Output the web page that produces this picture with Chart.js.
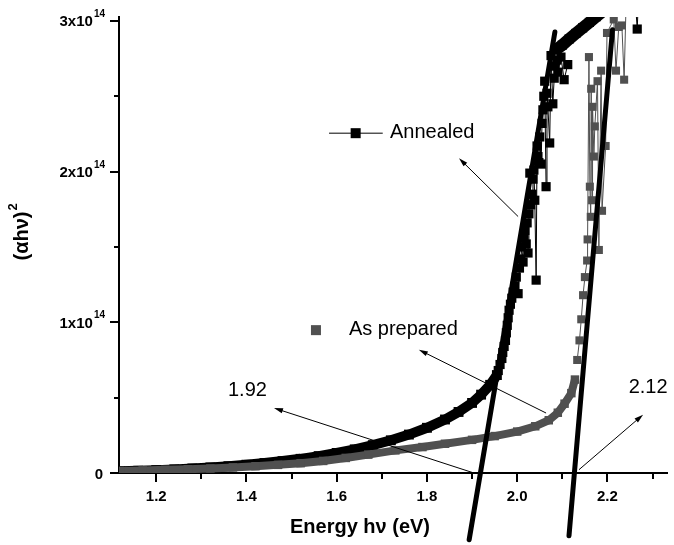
<!DOCTYPE html>
<html>
<head>
<meta charset="utf-8">
<script src="https://cdn.jsdelivr.net/npm/chart.js@4.4.0/dist/chart.umd.min.js"></script>
<style>
  html, body { margin: 0; padding: 0; background: #fff; }
  canvas { display: block; }
</style>
</head>
<body>
<canvas id="taucChart" width="674" height="545"></canvas>
<script>
// x = photon energy h\u03bd (eV), y = (\u03b1h\u03bd)^2 in units of 1e14

// annealed sample: dense low-energy band, scattered edge, dense top band
const annealedBandX = [1.12, 1.16, 1.20, 1.24, 1.28, 1.32, 1.36, 1.40, 1.44, 1.48, 1.52, 1.56, 1.60, 1.64, 1.68, 1.72, 1.76, 1.80, 1.84, 1.87, 1.90, 1.92, 1.94, 1.955];
const annealedBandY = [0.012, 0.015, 0.019, 0.024, 0.030, 0.037, 0.045, 0.055, 0.066, 0.079, 0.094, 0.112, 0.133, 0.157, 0.185, 0.217, 0.255, 0.300, 0.355, 0.405, 0.465, 0.520, 0.585, 0.650];
const annealedEdgeX = [1.958, 1.962, 1.966, 1.968, 1.971, 1.974, 1.976, 1.978, 1.980, 1.982, 1.985, 1.988, 1.991, 1.995, 1.998, 2.002, 2.005, 2.008, 2.010, 2.013, 2.015, 2.017, 2.020, 2.022, 2.024, 2.026, 2.028, 2.030, 2.033, 2.035, 2.037, 2.039, 2.042, 2.044, 2.046, 2.048, 2.050, 2.053, 2.055, 2.057, 2.059, 2.061, 2.064, 2.066, 2.068, 2.072, 2.075, 2.079, 2.082, 2.084, 2.088, 2.090, 2.097, 2.104, 2.112];
const annealedEdgeY = [0.68, 0.72, 0.76, 0.80, 0.84, 0.88, 0.93, 0.98, 1.03, 1.08, 1.12, 1.16, 1.20, 1.24, 1.30, 1.19, 1.36, 1.42, 1.50, 1.40, 1.56, 1.61, 1.52, 1.66, 1.46, 1.72, 1.99, 1.78, 1.85, 1.95, 2.01, 1.81, 1.28, 2.17, 2.10, 2.06, 2.23, 2.05, 2.32, 2.41, 2.50, 2.60, 1.90, 2.52, 2.43, 2.19, 2.77, 2.45, 2.62, 2.70, 2.74, 2.66, 2.76, 2.61, 2.71];
const annealedTopX = [2.085, 2.100, 2.115, 2.130, 2.145, 2.160, 2.175, 2.190];
const annealedTopY = [2.807, 2.840, 2.880, 2.917, 2.954, 2.990, 3.028, 3.065];
const annealedStrayX = [2.258, 2.266, 2.272];
const annealedStrayY = [3.30, 2.946, 3.40];

// as prepared sample
const preparedBandX = [1.12, 1.17, 1.22, 1.27, 1.32, 1.37, 1.42, 1.47, 1.52, 1.57, 1.62, 1.67, 1.73, 1.79, 1.84, 1.90, 1.95, 2.00, 2.04, 2.07, 2.09, 2.105, 2.12, 2.128];
const preparedBandY = [0.014, 0.017, 0.021, 0.025, 0.030, 0.037, 0.045, 0.054, 0.065, 0.080, 0.100, 0.122, 0.150, 0.172, 0.194, 0.220, 0.245, 0.275, 0.310, 0.350, 0.400, 0.460, 0.530, 0.620];
const preparedEdgeX = [2.133, 2.138, 2.142, 2.146, 2.150, 2.155, 2.156, 2.159, 2.161, 2.163, 2.164, 2.166, 2.167, 2.170, 2.172, 2.178, 2.181, 2.186, 2.188, 2.196, 2.199, 2.214, 2.219, 2.225, 2.232, 2.237, 2.242];
const preparedEdgeY = [0.75, 0.88, 1.02, 1.18, 1.30, 1.41, 1.55, 2.76, 1.90, 1.70, 2.55, 1.81, 2.43, 2.10, 2.30, 2.60, 1.48, 2.67, 1.74, 2.17, 2.92, 3.01, 2.67, 2.96, 2.97, 2.61, 3.20];

// linear fits (band gap extrapolation)
const fitAnnealedX = [1.8935, 2.0835];
const fitAnnealedY = [-0.443, 2.926];
const fitPreparedX = [2.1148, 2.2112];
const fitPreparedY = [-0.416, 2.942];

// axes
const xMajorTicks = [1.2, 1.4, 1.6, 1.8, 2.0, 2.2];
const xTickLabels = ['1.2', '1.4', '1.6', '1.8', '2.0', '2.2'];
const xMinorTicks = [1.3, 1.5, 1.7, 1.9, 2.1, 2.3];
const yMajorTicks = [0, 1, 2, 3];
const yTickLabels = ['0', '1x10', '2x10', '3x10'];
const yTickExponents = ['', '14', '14', '14'];
const yMinorTicks = [0.5, 1.5, 2.5];

const BLACK = '#000000';
const GREY = '#505050';
const FONT = "'Liberation Sans', Arial, sans-serif";

const pts = (xs, ys) => xs.map((x, i) => ({ x: x, y: ys[i] }));

function series(xs, ys, color, lineWidth, radius, order) {
    return {
        data: pts(xs, ys),
        showLine: true,
        borderColor: color,
        borderWidth: lineWidth,
        pointStyle: 'rect',
        pointRadius: radius,
        pointBorderWidth: 0,
        pointBackgroundColor: color,
        order: order
    };
}

function fitLine(xs, ys) {
    return {
        data: pts(xs, ys),
        showLine: true,
        borderColor: BLACK,
        borderWidth: 5,
        borderCapStyle: 'round',
        pointRadius: 0,
        clip: false,
        order: 0
    };
}

function arrow(ctx, x0, y0, x1, y1) {
    const a = Math.atan2(y1 - y0, x1 - x0);
    const len = 9, half = 2.6;
    ctx.beginPath();
    ctx.moveTo(x0, y0);
    ctx.lineTo(x1 - Math.cos(a) * len * 0.8, y1 - Math.sin(a) * len * 0.8);
    ctx.stroke();
    ctx.beginPath();
    ctx.moveTo(x1, y1);
    ctx.lineTo(x1 - Math.cos(a) * len - Math.sin(a) * half, y1 - Math.sin(a) * len + Math.cos(a) * half);
    ctx.lineTo(x1 - Math.cos(a) * len + Math.sin(a) * half, y1 - Math.sin(a) * len - Math.cos(a) * half);
    ctx.closePath();
    ctx.fill();
}

// axis decorations, labels and annotations
const overlay = {
    id: 'taucOverlay',
    afterDraw: (chart) => {
        const { ctx, chartArea } = chart;
        const xs = chart.scales.x, ys = chart.scales.y;
        const px = v => xs.getPixelForValue(v);
        const py = v => ys.getPixelForValue(v);
        ctx.save();
        ctx.strokeStyle = BLACK;
        ctx.fillStyle = BLACK;

        // tick marks
        ctx.lineWidth = 2;
        const bottom = chartArea.bottom, left = chartArea.left;
        xMajorTicks.concat(xMinorTicks).forEach(v => {
            const len = xMajorTicks.includes(v) ? 9 : 6;
            const p = Math.round(px(v));
            ctx.beginPath(); ctx.moveTo(p, bottom); ctx.lineTo(p, bottom + len); ctx.stroke();
        });
        yMajorTicks.concat(yMinorTicks).forEach(v => {
            const len = yMajorTicks.includes(v) ? 9 : 5;
            const p = Math.round(py(v));
            ctx.beginPath(); ctx.moveTo(left, p); ctx.lineTo(left - len, p); ctx.stroke();
        });

        // tick labels
        ctx.font = 'bold 15px ' + FONT;
        ctx.textAlign = 'center';
        ctx.textBaseline = 'middle';
        xMajorTicks.forEach((v, i) => ctx.fillText(xTickLabels[i], px(v), bottom + 24));

        yMajorTicks.forEach((v, i) => {
            const p = py(v);
            let right = 105;
            ctx.textBaseline = 'alphabetic';
            if (yTickExponents[i]) {
                ctx.font = 'bold 10px ' + FONT;
                ctx.textAlign = 'right';
                ctx.fillText(yTickExponents[i], right, p - 4);
                right -= ctx.measureText(yTickExponents[i]).width + 1;
            } else {
                right = 103;
            }
            ctx.font = 'bold 15px ' + FONT;
            ctx.textAlign = 'right';
            ctx.fillText(yTickLabels[i], right, p + 5.5);
        });

        // axis titles
        ctx.font = 'bold 20px ' + FONT;
        ctx.textAlign = 'center';
        ctx.textBaseline = 'middle';
        ctx.fillText('Energy h\u03bd (eV)', 360, 527);

        ctx.save();
        ctx.translate(21, 232);
        ctx.rotate(-Math.PI / 2);
        ctx.font = 'bold 20px ' + FONT;
        const base = '(\u03b1h\u03bd)';
        const w = ctx.measureText(base).width;
        ctx.textAlign = 'left';
        ctx.textBaseline = 'alphabetic';
        ctx.fillText(base, -w / 2 - 4, 7);
        ctx.font = 'bold 13px ' + FONT;
        ctx.fillText('2', w / 2 - 3, -4);
        ctx.restore();

        // legend entries
        ctx.lineWidth = 1;
        ctx.beginPath();
        ctx.moveTo(px(1.583), py(2.255)); ctx.lineTo(px(1.702), py(2.255));
        ctx.stroke();
        ctx.fillRect(px(1.642) - 5, py(2.255) - 5, 10, 10);
        ctx.fillStyle = GREY;
        ctx.fillRect(px(1.554) - 5, py(0.948) - 5, 10, 10);
        ctx.fillStyle = BLACK;
        ctx.font = '20px ' + FONT;
        ctx.textAlign = 'left';
        ctx.textBaseline = 'middle';
        ctx.fillText('Annealed', px(1.718), py(2.26));
        ctx.fillText('As prepared', px(1.627), py(0.954));
        ctx.fillText('1.92', px(1.359), py(0.546));
        ctx.fillText('2.12', px(2.247), py(0.566));

        // arrows
        ctx.lineWidth = 1;
        arrow(ctx, px(2.002), py(1.702), px(1.871), py(2.089));
        arrow(ctx, px(2.064), py(0.398), px(1.782), py(0.818));
        arrow(ctx, px(1.900), py(0.004), px(1.461), py(0.431));
        arrow(ctx, px(2.137), py(0.022), px(2.279), py(0.387));
        ctx.restore();
    }
};

const config = {
    type: 'scatter',
    data: {
        datasets: [
            fitLine(fitAnnealedX, fitAnnealedY),
            fitLine(fitPreparedX, fitPreparedY),
            series(preparedBandX, preparedBandY, GREY, 8, 6, 1),
            series(preparedEdgeX, preparedEdgeY, GREY, 1, 5.7, 1),
            series(annealedBandX, annealedBandY, BLACK, 10, 7, 2),
            series(annealedEdgeX, annealedEdgeY, BLACK, 1, 6.5, 2),
            series(annealedTopX, annealedTopY, BLACK, 12, 6.5, 2),
            series(annealedStrayX, annealedStrayY, BLACK, 1, 6.5, 2)
        ]
    },
    options: {
        responsive: false,
        animation: false,
        layout: { padding: { top: 17, right: 0, bottom: 0, left: 0 } },
        plugins: {
            legend: { display: false },
            tooltip: { enabled: false }
        },
        scales: {
            x: {
                type: 'linear',
                min: 1.1175,
                max: 2.332,
                grid: { display: true, drawOnChartArea: false, drawTicks: false },
                border: { display: true, color: BLACK, width: 2 },
                ticks: { display: false },
                afterFit: (s) => { s.height = 72; }
            },
            y: {
                type: 'linear',
                min: 0,
                max: 3.026,
                grid: { display: true, drawOnChartArea: false, drawTicks: false },
                border: { display: true, color: BLACK, width: 2 },
                ticks: { display: false },
                afterFit: (s) => { s.width = 119; }
            }
        }
    },
    plugins: [overlay]
};

new Chart(document.getElementById('taucChart').getContext('2d'), config);
</script>
</body>
</html>
